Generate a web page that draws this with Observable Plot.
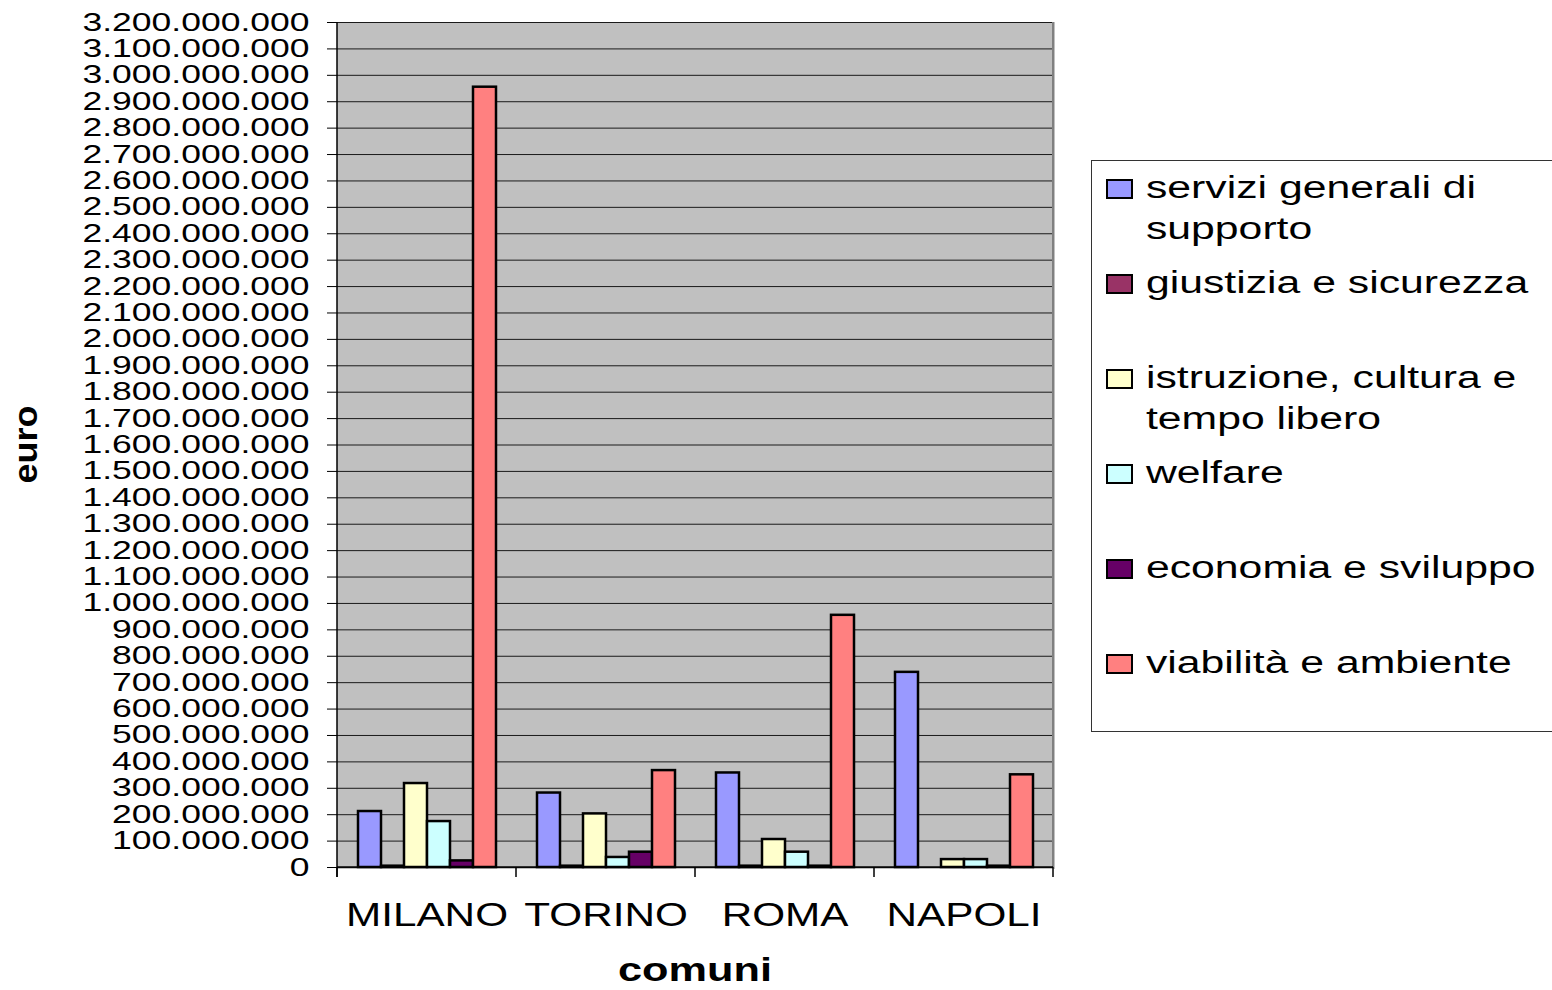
<!DOCTYPE html>
<html><head><meta charset="utf-8">
<script src="https://cdn.jsdelivr.net/npm/d3@7"></script>
<script src="https://cdn.jsdelivr.net/npm/@observablehq/plot@0.6"></script>
<style>
body{margin:0;background:#fff;font-family:"Liberation Sans",Arial,sans-serif;}
#wrap{position:relative;width:1552px;height:990px;overflow:hidden;}
#legend{position:absolute;left:1091px;top:160px;width:480px;height:572px;border:1px solid #333;box-sizing:border-box;background:#fff;}
.item{position:absolute;left:14px;}
.sw{position:absolute;left:0;top:12px;width:23px;height:16px;border:2px solid #000;}
.lab{position:absolute;left:40px;top:0;font-size:31px;line-height:41px;white-space:nowrap;transform-origin:0 0;color:#000;}
</style></head><body><div id="wrap"><div id="chart"></div><div id="legend"></div></div>
<script>
const cities = ["MILANO", "TORINO", "ROMA", "NAPOLI"];
const categories = ["servizi generali di supporto", "giustizia e sicurezza", "istruzione, cultura e tempo libero", "welfare", "economia e sviluppo", "viabilità e ambiente"];
const legendLines = [["servizi generali di", "supporto"], ["giustizia e sicurezza"], ["istruzione, cultura e", "tempo libero"], ["welfare"], ["economia e sviluppo"], ["viabilità e ambiente"]];
const colors = ["#9999FF", "#993366", "#FFFFCC", "#CCFFFF", "#660066", "#FF8080"];
const servizi = [212e6, 282e6, 358e6, 739e6];
const giustizia = [5e6, 5e6, 5e6, 0];
const istruzione = [318e6, 203e6, 106e6, 30e6];
const welfare = [174e6, 38e6, 58e6, 30e6];
const economia = [25e6, 58e6, 5e6, 5e6];
const viabilita = [2955e6, 367e6, 955e6, 351e6];
const yTicks = d3.range(0, 3200e6 + 1, 100e6);

const series = [servizi, giustizia, istruzione, welfare, economia, viabilita];
const data = [];
cities.forEach((c, i) => categories.forEach((k, j) => data.push({city: c, cat: k, value: series[j][i]})));

const it = d3.formatLocale({decimal: ",", thousands: ".", grouping: [3], currency: ["", "€"]});
const fmt = it.format(",d");

const plot = Plot.plot({
  width: 1552, height: 990,
  marginLeft: 336, marginRight: 499, marginTop: 22, marginBottom: 123,
  style: {fontFamily: "Liberation Sans, Arial, sans-serif", background: "transparent", color: "#000"},
  fx: {domain: cities, padding: 0},
  x: {domain: categories, paddingInner: 0, paddingOuter: 0.75, axis: null},
  y: {domain: [0, 3200e6]},
  color: {domain: categories, range: colors},
  marks: [
    Plot.frame({fill: "#C0C0C0", stroke: "#C0C0C0", strokeWidth: 2}),
    Plot.gridY(yTicks, {stroke: "#1a1a1a", strokeOpacity: 1, strokeWidth: 1}),
    Plot.axisY(yTicks, {tickFormat: fmt, tickSize: 10, tickPadding: 18, fontSize: 25, label: null}),
    Plot.axisFx({anchor: "bottom", tickSize: 0, tickPadding: 35, fontSize: 33, label: null}),
    Plot.barY(data.filter(d => d.value > 0), {fx: "city", x: "cat", y: "value", fill: "cat", stroke: "#000", strokeWidth: 2.5})
  ]
});
document.getElementById("chart").append(plot);
const svg = d3.select(plot);
svg.selectAll('g[aria-label="frame"] rect').attr("shape-rendering", "crispEdges");

// stretch texts horizontally to match reference proportions
svg.selectAll('g[aria-label="y-axis tick label"] text').each(function() {
  const w = this.getComputedTextLength();
  this.setAttribute("textLength", w * 1.42);
  this.setAttribute("lengthAdjust", "spacingAndGlyphs");
});
svg.selectAll('g[aria-label="fx-axis tick label"] text').each(function() {
  const w = this.getComputedTextLength();
  this.setAttribute("textLength", w * 1.28);
  this.setAttribute("lengthAdjust", "spacingAndGlyphs");
});

const fx = plot.scale("fx"), y = plot.scale("y");
const edges = cities.map(c => fx.apply(c));
edges.push(edges[edges.length - 1] + fx.bandwidth);
const y0 = y.apply(0), yTop = y.apply(3200e6);
const deco = svg.append("g");
deco.append("line").attr("x1", edges[edges.length - 1]).attr("x2", edges[edges.length - 1]).attr("y1", yTop).attr("y2", y0).attr("stroke", "#808080").attr("stroke-width", 2);
deco.append("line").attr("x1", edges[0]).attr("x2", edges[0]).attr("y1", yTop).attr("y2", y0 + 10).attr("stroke", "#000").attr("stroke-width", 1.5);
deco.append("line").attr("x1", edges[0]).attr("x2", edges[edges.length - 1]).attr("y1", y0).attr("y2", y0).attr("stroke", "#000").attr("stroke-width", 1.5);
edges.forEach(e => deco.append("line").attr("x1", e).attr("x2", e).attr("y1", y0).attr("y2", y0 + 10).attr("stroke", "#000").attr("stroke-width", 1.5));

// axis titles
const t1 = svg.append("text").attr("transform", `translate(25,${(y0 + yTop) / 2}) rotate(-90)`)
  .attr("text-anchor", "middle").attr("dy", "0.35em").attr("font-size", 34).attr("font-weight", "bold").text("euro");
t1.attr("textLength", 78).attr("lengthAdjust", "spacingAndGlyphs");
const t2 = svg.append("text").attr("x", (edges[0] + edges[edges.length - 1]) / 2).attr("y", 969)
  .attr("text-anchor", "middle").attr("dy", "0.35em").attr("font-size", 34).attr("font-weight", "bold").text("comuni");
t2.attr("textLength", 154).attr("lengthAdjust", "spacingAndGlyphs");

// legend
const legend = d3.select("#legend");
categories.forEach((k, i) => {
  const item = legend.append("div").attr("class", "item").style("top", (6 + i * 95) + "px");
  item.append("div").attr("class", "sw").style("background", colors[i]);
  const lab = item.append("div").attr("class", "lab");
  legendLines[i].forEach((l, j) => { if (j) lab.append("br"); lab.append("span").text(l); });
});
const firstSpan = legend.select(".lab span").node();
const factor = 330 / firstSpan.getBoundingClientRect().width;
legend.selectAll(".lab").style("transform", `scaleX(${factor})`);
</script></body></html>
